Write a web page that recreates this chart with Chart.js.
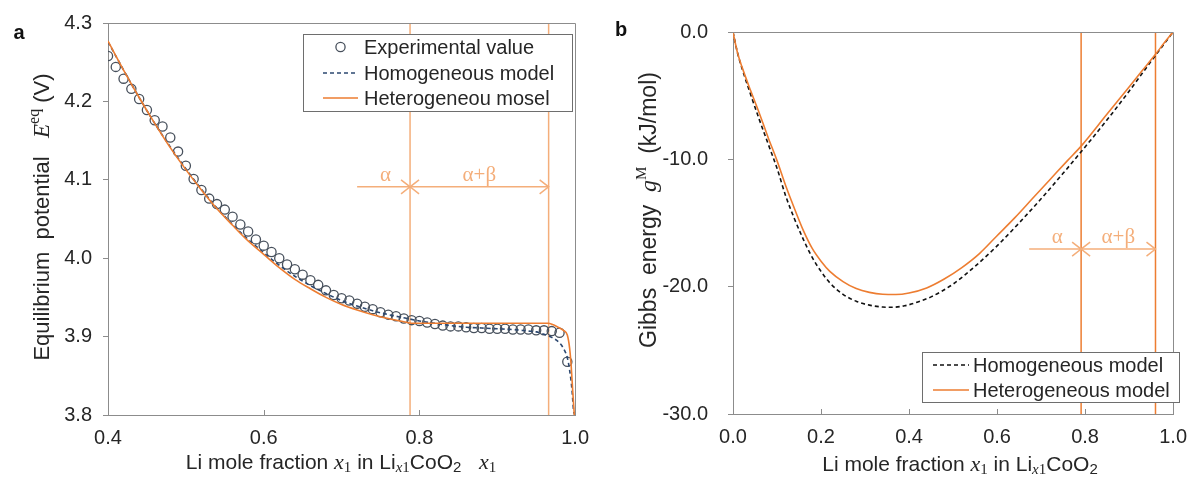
<!DOCTYPE html>
<html><head><meta charset="utf-8">
<script src="https://cdn.jsdelivr.net/npm/chart.js@4/dist/chart.umd.min.js"></script>
<style>
html,body{margin:0;padding:0;background:#fff;width:1198px;height:477px;overflow:hidden}
#ca{position:absolute;left:0;top:0}
#cb{position:absolute;left:600px;top:0}
</style></head><body>
<canvas id="ca" width="600" height="477"></canvas>
<canvas id="cb" width="598" height="477"></canvas>
<script>
// ---------- Panel a : equilibrium potential ----------
const expX = [0.40,0.41,0.42,0.43,0.44,0.45,0.46,0.47,0.48,0.49,0.50,0.51,0.52,0.53,0.54,0.55,0.56,0.57,0.58,0.59,
  0.60,0.61,0.62,0.63,0.64,0.65,0.66,0.67,0.68,0.69,0.70,0.71,0.72,0.73,0.74,0.75,0.76,0.77,0.78,0.79,
  0.80,0.81,0.82,0.83,0.84,0.85,0.86,0.87,0.88,0.89,0.90,0.91,0.92,0.93,0.94,0.95,0.96,0.97,0.98,0.99];
const expE = [4.258,4.244,4.229,4.216,4.203,4.189,4.176,4.168,4.154,4.136,4.118,4.101,4.087,4.076,4.069,4.062,4.053,4.043,4.034,4.024,
  4.016,4.008,4.000,3.992,3.986,3.979,3.972,3.966,3.959,3.953,3.949,3.946,3.942,3.938,3.935,3.931,3.928,3.926,3.923,3.921,
  3.920,3.918,3.916,3.914,3.913,3.913,3.912,3.911,3.911,3.910,3.910,3.910,3.909,3.909,3.909,3.908,3.908,3.907,3.905,3.868];

const homX = [0.40,0.42,0.44,0.46,0.48,0.50,0.52,0.54,0.56,0.58,0.60,0.62,0.64,0.66,0.68,0.70,0.72,0.74,0.76,0.78,
  0.80,0.82,0.84,0.86,0.88,0.90,0.92,0.94,0.95,0.96,0.97,0.98,0.985,0.99,0.993,0.996,0.998,0.9995];
const homE = [4.276,4.240,4.205,4.172,4.142,4.114,4.088,4.064,4.043,4.024,4.007,3.991,3.977,3.965,3.955,3.946,3.939,3.933,3.928,3.924,
  3.920,3.917,3.914,3.912,3.911,3.910,3.909,3.907,3.906,3.903,3.899,3.892,3.885,3.873,3.857,3.832,3.806,3.800];

const hetX = [0.40,0.42,0.44,0.46,0.48,0.50,0.52,0.54,0.56,0.58,0.60,0.62,0.64,0.66,0.68,0.70,0.72,0.74,0.76,0.78,0.79,
  0.85,0.90,0.965,0.972,0.978,0.985,0.99,0.993,0.995,0.997,0.999];
const hetE = [4.277,4.240,4.205,4.172,4.141,4.113,4.087,4.063,4.042,4.022,4.005,3.988,3.973,3.961,3.950,3.941,3.934,3.928,3.923,3.919,3.917,
  3.917,3.917,3.917,3.915,3.912,3.908,3.902,3.885,3.862,3.830,3.800];

const boundsA = [0.788, 0.966];      // α | α+β phase boundaries
const yRangeA = [3.8, 4.3];
const xTicksA = [0.4, 0.6, 0.8, 1.0];
const yTicksA = [3.8, 3.9, 4.0, 4.1, 4.2, 4.3];
const arrowA = {start: 0.72, y: 4.091, labelY: 4.106};

// ---------- Panel b : Gibbs energy ----------
const gHomX = [0,0.01,0.02,0.04,0.06,0.08,0.10,0.12,0.14,0.16,0.18,0.20,0.22,0.25,0.28,0.31,0.34,0.36,0.39,0.42,0.45,
  0.50,0.55,0.60,0.65,0.70,0.75,0.79,0.85,0.90,0.95,0.98,1.0];
const gHomY = [0,-1.6,-2.8,-4.9,-6.9,-8.8,-10.7,-12.9,-14.7,-16.3,-17.7,-18.8,-19.7,-20.6,-21.15,-21.45,-21.6,-21.62,-21.5,-21.2,-20.8,
  -19.8,-18.4,-16.8,-15.0,-13.1,-11.1,-9.45,-6.9,-4.65,-2.3,-0.92,0];

const gHetX = [0,0.01,0.02,0.04,0.06,0.08,0.10,0.12,0.14,0.16,0.18,0.20,0.22,0.25,0.28,0.31,0.34,0.37,0.40,0.44,0.48,
  0.52,0.56,0.60,0.64,0.68,0.72,0.76,0.79,0.85,0.90,0.93,0.96,0.98,1.0];
const gHetY = [0,-1.6,-2.7,-4.6,-6.4,-8.3,-10.1,-12.1,-13.9,-15.6,-17.0,-18.0,-18.8,-19.6,-20.15,-20.45,-20.6,-20.62,-20.5,-20.1,-19.4,
  -18.5,-17.4,-16.0,-14.6,-13.1,-11.6,-10.1,-9.0,-6.44,-4.31,-3.03,-1.75,-0.85,0];

const boundsB = [0.791, 0.960];
const yRangeB = [-30, 0];
const xTicksB = [0, 0.2, 0.4, 0.6, 0.8, 1.0];
const yTicksB = [-30, -20, -10, 0];
const arrowB = {start: 0.673, y: -17.05, labelY: -16.1};

// ---------- styling helpers ----------
const SANS = '"Liberation Sans", Arial, sans-serif';
const SERIF = '"Liberation Serif", "Times New Roman", serif';
const S = n => n + 'px ' + SANS;
const SE = (n, it) => (it ? 'italic ' : '') + n + 'px ' + SERIF;
const TXT = '#262626';
const AX = '#8c8c8c';
const ORANGE = '#ED7D31';
const LIGHT = '#F4AE7A';

function pts(xs, ys) { return xs.map((x, i) => ({x: x, y: ys[i]})); }

function rich(ctx, parts, cx, cy, rot) {
  ctx.save();
  ctx.translate(cx, cy);
  if (rot) ctx.rotate(rot);
  let w = 0;
  parts.forEach(p => { ctx.font = p[1]; w += ctx.measureText(p[0]).width; });
  let x = -w / 2;
  ctx.textBaseline = 'middle'; ctx.textAlign = 'left'; ctx.fillStyle = TXT;
  parts.forEach(p => { ctx.font = p[1]; ctx.fillText(p[0], x, p[2] || 0); x += ctx.measureText(p[0]).width; });
  ctx.restore();
}

function head(ctx, x, y, dir) {
  ctx.beginPath();
  ctx.moveTo(x - dir * 9, y - 7); ctx.lineTo(x, y); ctx.lineTo(x - dir * 9, y + 7);
  ctx.stroke();
}

function decor(cfg) {
  return {
    id: 'decor',
    afterDatasetsDraw(chart) {
      const ctx = chart.ctx, a = chart.chartArea, xs = chart.scales.x, ys = chart.scales.y;
      ctx.save();
      ctx.strokeStyle = AX; ctx.lineWidth = 1;
      ctx.beginPath();
      ctx.moveTo(a.left, Math.round(a.top) + 0.5);
      ctx.lineTo(Math.round(a.right) + 0.5, Math.round(a.top) + 0.5);
      ctx.lineTo(Math.round(a.right) + 0.5, a.bottom);
      ctx.stroke();
      cfg.xTicks.slice(1, -1).forEach(v => {
        const px = Math.round(xs.getPixelForValue(v)) + 0.5;
        ctx.beginPath(); ctx.moveTo(px, a.bottom); ctx.lineTo(px, a.bottom - 5); ctx.stroke();
      });
      const ar = cfg.arrow, b = cfg.bounds;
      const y = ys.getPixelForValue(ar.y);
      const x0 = xs.getPixelForValue(ar.start), x1 = xs.getPixelForValue(b[0]), x2 = xs.getPixelForValue(b[1]);
      ctx.strokeStyle = LIGHT; ctx.lineWidth = 1.5;
      ctx.beginPath(); ctx.moveTo(x0, y); ctx.lineTo(x1, y); ctx.stroke();
      head(ctx, x1, y, 1);
      ctx.beginPath(); ctx.moveTo(x1, y); ctx.lineTo(x2, y); ctx.stroke();
      head(ctx, x1, y, -1); head(ctx, x2, y, 1);
      const ly = ys.getPixelForValue(ar.labelY);
      ctx.fillStyle = LIGHT; ctx.font = SE(21); ctx.textAlign = 'center'; ctx.textBaseline = 'middle';
      ctx.fillText('α', (x0 + x1) / 2 + 2, ly);
      ctx.fillText('α+β', (x1 + x2) / 2, ly);
      const L = cfg.legend;
      ctx.fillStyle = '#fff'; ctx.fillRect(L.x, L.y, L.w, L.h);
      ctx.strokeStyle = '#6e6e6e'; ctx.lineWidth = 1;
      ctx.strokeRect(L.x + 0.5, L.y + 0.5, L.w, L.h);
      ctx.textAlign = 'left'; ctx.textBaseline = 'middle';
      L.items.forEach(it => {
        ctx.save();
        if (it.kind === 'circle') {
          ctx.strokeStyle = '#47505c'; ctx.lineWidth = 1.3;
          ctx.beginPath(); ctx.arc((L.sx0 + L.sx1) / 2, it.y, 4.6, 0, Math.PI * 2); ctx.stroke();
        } else {
          ctx.strokeStyle = it.color; ctx.lineWidth = 1.6;
          if (it.dash) ctx.setLineDash(it.dash);
          ctx.beginPath(); ctx.moveTo(L.sx0, it.y); ctx.lineTo(L.sx1, it.y); ctx.stroke();
        }
        ctx.restore();
        ctx.fillStyle = TXT; ctx.font = S(20);
        ctx.fillText(it.text, L.tx, it.y + 1);
      });
      rich(ctx, cfg.xTitle, cfg.xTitlePos[0], cfg.xTitlePos[1], 0);
      rich(ctx, cfg.yTitle, cfg.yTitlePos[0], cfg.yTitlePos[1], -Math.PI / 2);
      ctx.fillStyle = '#111'; ctx.font = 'bold 20px ' + SANS; ctx.textAlign = 'center'; ctx.textBaseline = 'middle';
      ctx.fillText(cfg.letter[0], cfg.letter[1], cfg.letter[2]);
      ctx.restore();
    }
  };
}

function scalesFor(xr, xt, yr, yt, yw, xh, ypad) {
  return {
    x: {
      type: 'linear', min: xr[0], max: xr[1],
      afterBuildTicks: s => { s.ticks = xt.map(v => ({value: v})); },
      afterFit: s => { s.height = xh; },
      grid: {display: false, drawTicks: false},
      border: {display: true, color: AX, width: 1},
      ticks: {padding: 11, color: TXT, font: {family: SANS, size: 20}, maxRotation: 0, autoSkip: false,
        callback: v => Number(v).toFixed(1)}
    },
    y: {
      type: 'linear', min: yr[0], max: yr[1],
      afterBuildTicks: s => { s.ticks = yt.map(v => ({value: v})); },
      afterFit: s => { s.width = yw; },
      grid: {display: true, drawOnChartArea: false, drawTicks: true, tickLength: 5, color: AX},
      border: {display: true, color: AX, width: 1},
      ticks: {padding: ypad, color: TXT, font: {family: SANS, size: 20}, autoSkip: false,
        callback: v => Number(v).toFixed(1)}
    }
  };
}

const common = {responsive: false, animation: false, events: [],
  plugins: {legend: {display: false}, tooltip: {enabled: false}}};

new Chart(document.getElementById('ca'), {
  type: 'scatter',
  data: {datasets: [
    {label: 'Experimental value', data: pts(expX, expE), showLine: false, pointRadius: 4.6, pointBorderWidth: 1.3,
      pointBorderColor: '#47505c', pointBackgroundColor: 'rgba(0,0,0,0)', order: 4},
    {label: 'Homogeneous model', data: pts(homX, homE), showLine: true, borderColor: '#2c4870', borderWidth: 1.6,
      borderDash: [4, 3], pointRadius: 0, cubicInterpolationMode: 'monotone', order: 3},
    {label: 'Heterogeneou mosel', data: pts(hetX, hetE), showLine: true, borderColor: ORANGE, borderWidth: 1.6,
      pointRadius: 0, cubicInterpolationMode: 'monotone', order: 1},
    {label: 'α boundary', data: pts([boundsA[0], boundsA[0]], yRangeA), showLine: true, borderColor: LIGHT, borderWidth: 1.5, pointRadius: 0, order: 5},
    {label: 'α+β boundary', data: pts([boundsA[1], boundsA[1]], yRangeA), showLine: true, borderColor: LIGHT, borderWidth: 1.5, pointRadius: 0, order: 5}
  ]},
  options: Object.assign({}, common, {
    layout: {padding: {left: 0, top: 23, right: 20, bottom: 0}},
    scales: scalesFor([0.4, 1.0], xTicksA, yRangeA, yTicksA, 108, 62, 11)
  }),
  plugins: [decor({
    xTicks: xTicksA, bounds: boundsA, arrow: arrowA, letter: ['a', 19, 33],
    legend: {x: 303, y: 34, w: 269, h: 77, sx0: 323, sx1: 358, tx: 364, items: [
      {kind: 'circle', y: 47, text: 'Experimental value'},
      {kind: 'line', y: 73, color: '#2c4870', dash: [4, 3], text: 'Homogeneous model'},
      {kind: 'line', y: 98, color: ORANGE, text: 'Heterogeneou mosel'}
    ]},
    xTitle: [['Li mole fraction ', S(21)], ['x', SE(22, true)], ['1', SE(15), 5], [' in Li', S(21)], ['x', SE(15, true), 5], ['1', SE(15), 5],
      ['CoO', S(21)], ['2', S(15), 5], ['   ', S(21)], ['x', SE(22, true)], ['1', SE(15), 5]],
    xTitlePos: [341, 463],
    yTitle: [['Equilibrium  potential   ', S(22)], ['E', SE(23, true)], ['eq', SE(16), -8], [' (V)', S(22)]],
    yTitlePos: [43, 217]
  })]
});

new Chart(document.getElementById('cb'), {
  type: 'scatter',
  data: {datasets: [
    {label: 'Homogeneous model', data: pts(gHomX, gHomY), showLine: true, borderColor: '#111', borderWidth: 1.6,
      borderDash: [4, 3], pointRadius: 0, cubicInterpolationMode: 'monotone', order: 3},
    {label: 'Heterogeneous model', data: pts(gHetX, gHetY), showLine: true, borderColor: ORANGE, borderWidth: 1.6,
      pointRadius: 0, cubicInterpolationMode: 'monotone', order: 1},
    {label: 'α boundary', data: pts([boundsB[0], boundsB[0]], yRangeB), showLine: true, borderColor: ORANGE, borderWidth: 1.5, pointRadius: 0, order: 5},
    {label: 'α+β boundary', data: pts([boundsB[1], boundsB[1]], yRangeB), showLine: true, borderColor: ORANGE, borderWidth: 1.5, pointRadius: 0, order: 5}
  ]},
  options: Object.assign({}, common, {
    layout: {padding: {left: 0, top: 22, right: 15, bottom: 0}},
    scales: scalesFor([0, 1.0], xTicksB, yRangeB, yTicksB, 133, 63, 20)
  }),
  plugins: [decor({
    xTicks: xTicksB, bounds: boundsB, arrow: arrowB, letter: ['b', 21, 30],
    legend: {x: 322, y: 352, w: 257, h: 50, sx0: 333, sx1: 369, tx: 373, items: [
      {kind: 'line', y: 365, color: '#111', dash: [4, 3], text: 'Homogeneous model'},
      {kind: 'line', y: 390, color: ORANGE, text: 'Heterogeneous model'}
    ]},
    xTitle: [['Li mole fraction ', S(21)], ['x', SE(22, true)], ['1', SE(15), 5], [' in Li', S(21)], ['x', SE(15, true), 5], ['1', SE(15), 5],
      ['CoO', S(21)], ['2', S(15), 5]],
    xTitlePos: [360, 465],
    yTitle: [['Gibbs  energy  ', S(23)], ['g', SE(24, true)], ['M', SE(15), -8], ['  (kJ/mol)', S(23)]],
    yTitlePos: [50, 210]
  })]
});
</script>
</body></html>
